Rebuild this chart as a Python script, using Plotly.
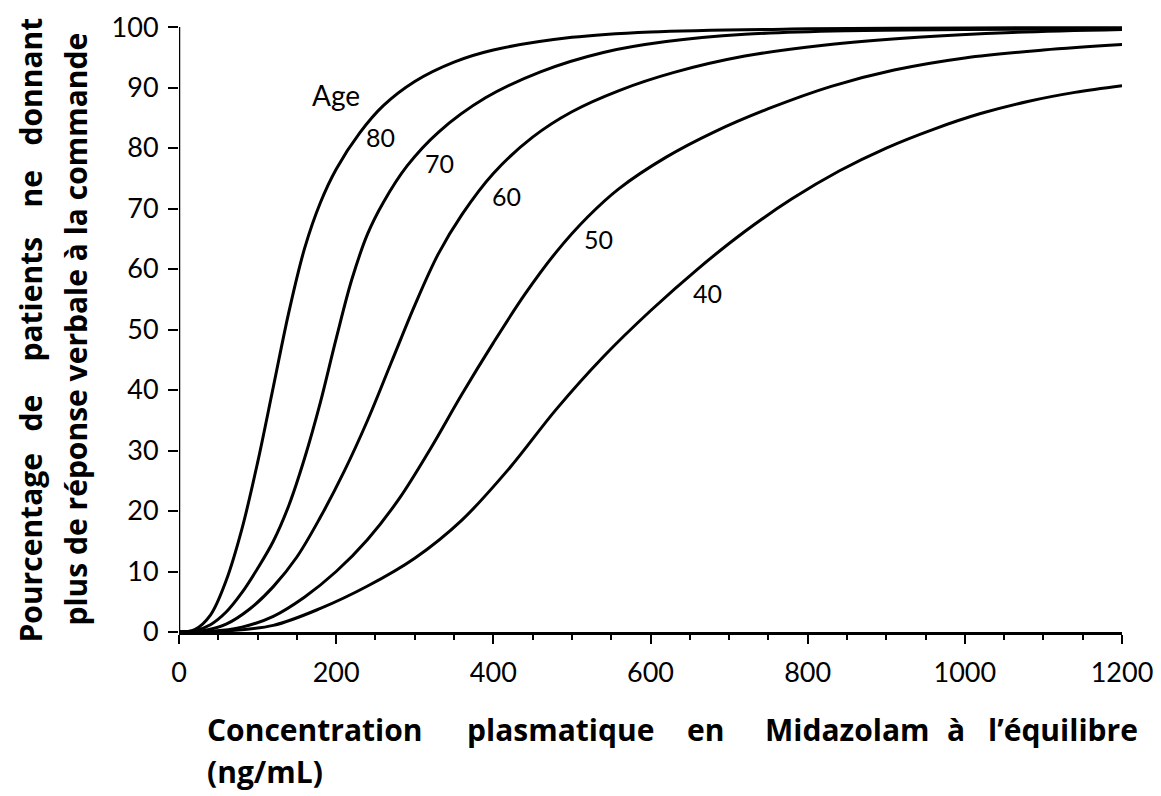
import plotly.graph_objects as go

# ---- data ----
conc_80 = [0, 20, 40, 60, 80, 100, 120, 140, 160, 180, 200, 230, 260, 300, 350, 400, 500, 600, 800, 1000, 1200]
pct_80 = [0, 0.4, 2.8, 8.5, 17, 28, 40.5, 53, 63.5, 71, 76.5, 82.5, 87, 91, 94.2, 96.2, 98.3, 99.2, 99.7, 99.85, 99.9]

conc_70 = [0, 20, 40, 60, 80, 100, 120, 140, 160, 180, 200, 220, 240, 260, 290, 330, 390, 460, 540, 620, 720, 850, 1000, 1200]
pct_70 = [0, 0.2, 1.2, 3.3, 6.5, 10.5, 15, 21, 28.8, 38, 48.5, 58.3, 65.8, 71.0, 77, 82.6, 88.3, 92.6, 95.8, 97.6, 98.8, 99.4, 99.6, 99.7]

conc_60 = [0, 30, 60, 90, 120, 150, 180, 210, 240, 270, 300, 330, 360, 400, 450, 500, 560, 630, 720, 820, 940, 1060, 1200]
pct_60 = [0, 0.2, 1.3, 3.8, 7.5, 12.4, 19, 26.5, 35, 44.5, 54, 62.5, 69, 75.8, 81.8, 86, 89.5, 92.5, 95.2, 97, 98.3, 99.1, 99.6]

conc_50 = [0, 40, 80, 120, 160, 200, 240, 280, 320, 360, 400, 440, 480, 520, 560, 620, 680, 750, 830, 910, 1000, 1100, 1200]
pct_50 = [0, 0.1, 0.8, 2.6, 5.8, 10, 15.3, 22, 30.3, 39.3, 47.8, 55.8, 62.8, 68.6, 73.3, 78.5, 82.6, 86.5, 90.2, 92.9, 94.9, 96.2, 97.1]

conc_40 = [0, 60, 120, 180, 240, 300, 360, 420, 480, 540, 600, 660, 720, 780, 840, 900, 960, 1020, 1080, 1140, 1200]
pct_40 = [0, 0.2, 1.1, 3.9, 7.6, 12.2, 18.5, 27, 36.8, 45.5, 53.1, 60.0, 66.2, 71.6, 76.2, 80.0, 83.1, 85.7, 87.7, 89.2, 90.3]

ages = ["80", "70", "60", "50", "40"]
label_x = [257, 331, 417, 534, 672]
label_y = [81.9, 77.6, 72, 64.9, 56]

x_ticks = [0, 200, 400, 600, 800, 1000, 1200]
y_ticks = [0, 10, 20, 30, 40, 50, 60, 70, 80, 90, 100]

series = [(conc_80, pct_80), (conc_70, pct_70), (conc_60, pct_60), (conc_50, pct_50), (conc_40, pct_40)]

# page body has an 8px margin: figure sits at (8, 8) in the window
W, H = 1153, 788
PLOT_L, PLOT_R = 179, 1122      # window px of x=0 and x=1200
PLOT_B, PX_PER_PCT = 632.5, 6.05  # window px of y=0, px per percent
Y_MAX = 101
PLOT_W = PLOT_R - PLOT_L
PLOT_H = Y_MAX * PX_PER_PCT
PLOT_T = PLOT_B - PLOT_H

def px_x(px):
    return (px - PLOT_L) / PLOT_W

def px_y(py):
    return (PLOT_B - py) / PLOT_H

fig = go.Figure()
for (cx, cy), age in zip(series, ages):
    fig.add_trace(go.Scatter(
        x=cx, y=cy, mode="lines", name=age,
        line=dict(color="black", width=3, shape="spline", smoothing=1.0),
        showlegend=False, hoverinfo="skip"))

LBL_FONT = dict(family="Lato, 'Open Sans', sans-serif", size=25, color="black")
for t, lx, ly in zip(ages, label_x, label_y):
    fig.add_annotation(x=lx, y=ly, text=t, showarrow=False, font=LBL_FONT,
                       xanchor="center", yanchor="middle")
fig.add_annotation(x=200, y=88.7, text="Age", showarrow=False,
                   font=dict(family="Lato, 'Open Sans', sans-serif", size=28, color="black"),
                   xanchor="center", yanchor="middle")

TITLE_FONT = dict(family="'Open Sans', sans-serif", size=30, color="black", weight="bold")

# x-axis title (justified first line, word by word)
x_words = ["Concentration", "plasmatique", "en", "Midazolam", "à", "l’équilibre"]
x_word_px = [205, 465, 685, 763, 945, 1140]
x_anchor = ["left", "left", "left", "left", "left", "right"]
for w, px, anc in zip(x_words, x_word_px, x_anchor):
    fig.add_annotation(xref="paper", yref="paper", x=px_x(px), y=px_y(730),
                       text=w, showarrow=False, font=TITLE_FONT, xanchor=anc, yanchor="middle")
fig.add_annotation(xref="paper", yref="paper", x=px_x(205), y=px_y(772),
                   text="(ng/mL)", showarrow=False, font=TITLE_FONT, xanchor="left", yanchor="middle")

# y-axis title (two rotated lines, first justified)
y_words = ["Pourcentage", "de", "patients", "ne", "donnant"]
y_word_center = [549, 414, 300, 190, 82]
for w, py in zip(y_words, y_word_center):
    fig.add_annotation(xref="paper", yref="paper", x=px_x(31), y=px_y(py),
                       text=w, showarrow=False, font=TITLE_FONT, textangle=-90,
                       xanchor="center", yanchor="middle")
fig.add_annotation(xref="paper", yref="paper", x=px_x(76), y=px_y(330),
                   text="plus de réponse verbale à la commande", showarrow=False, font=TITLE_FONT,
                   textangle=-90, xanchor="center", yanchor="middle")

# y axis line from 0 to 100
fig.add_shape(type="line", xref="x", yref="y", x0=0, x1=0, y0=0, y1=100,
              line=dict(color="black", width=2.5), layer="above")

TICK_FONT = dict(family="Lato, 'Open Sans', sans-serif", size=27, color="black")
fig.update_xaxes(range=[0, 1200], tickvals=x_ticks, ticktext=[str(v) for v in x_ticks],
                 showline=True, linecolor="black", linewidth=2.5, automargin=False,
                 ticks="outside", ticklen=9, tickwidth=2, tickcolor="black",
                 minor=dict(dtick=50, ticks="outside", ticklen=5, tickwidth=1.5, tickcolor="black"),
                 showgrid=False, zeroline=False, tickfont=TICK_FONT, ticklabelstandoff=6)
fig.update_yaxes(range=[0, Y_MAX], tickvals=y_ticks, ticktext=[str(v) for v in y_ticks],
                 showline=False, automargin=False,
                 ticks="outside", ticklen=10, tickwidth=2, tickcolor="black",
                 showgrid=False, zeroline=False, tickfont=TICK_FONT, ticklabelstandoff=4)

fig.update_layout(width=W, height=H, plot_bgcolor="white", paper_bgcolor="white",
                  margin=dict(l=PLOT_L - 8, r=(8 + W) - PLOT_R, t=PLOT_T - 8, b=(8 + H) - PLOT_B))

fig.write_html("out.html")
